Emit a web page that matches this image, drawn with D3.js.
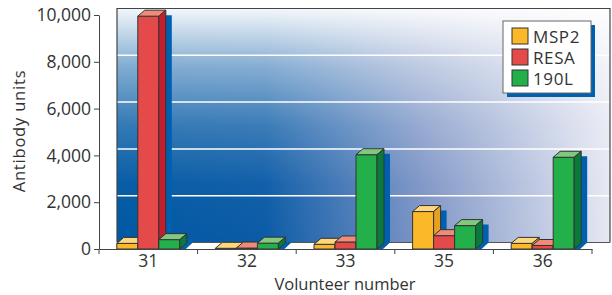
<!DOCTYPE html>
<html>
<head>
<meta charset="utf-8">
<script src="https://cdn.jsdelivr.net/npm/d3@7"></script>
<style>
  body { margin: 0; background: #fff; }
  text { font-family: "Open Sans", sans-serif; fill: #333; }
</style>
</head>
<body>
<svg id="chart"></svg>
<script>
const categories = ["31", "32", "33", "35", "36"];
const series = ["MSP2", "RESA", "190L"];
const msp2 = [240, 30, 200, 1600, 240];
const resa = [9950, 40, 300, 570, 150];
const l190 = [400, 250, 4030, 1000, 3920];
const yTicks = [0, 2000, 4000, 6000, 8000, 10000];

const values = [msp2, resa, l190];
const frontCol = ["#fbb829", "#e54a4a", "#23b04b"];
const topCol = ["#fed77c", "#f28a78", "#80c97f"];
const sideCol = ["#e8a11e", "#c21f2e", "#0a7a3c"];

const width = 612, height = 295;
const svg = d3.select("#chart").attr("width", width).attr("height", height);

const x = d3.scaleBand().domain(categories).range([99, 592]);
const y = d3.scaleLinear().domain([0, 10000]).range([249, 15]);
const inner = d3.scaleBand().domain(series).range([0, 63]);

// depth of the back wall and of the bars
const wdx = 18, wdy = -6.5;
const bdx = 7, bdy = -6;

const defs = svg.append("defs");
const base = defs.append("linearGradient").attr("id", "wallBase")
    .attr("gradientUnits", "userSpaceOnUse")
    .attr("x1", 117).attr("x2", 610).attr("y1", 0).attr("y2", 0);
[[0, "#0058a3"], [0.3, "#0b5ba6"], [0.62, "#7f96c6"], [1, "#e6e8f3"]]
    .forEach(s => base.append("stop").attr("offset", s[0]).attr("stop-color", s[1]));
const fade = defs.append("linearGradient").attr("id", "wallFade")
    .attr("x1", 0).attr("x2", 0).attr("y1", 0).attr("y2", 1);
[[0, 0.95], [0.25, 0.5], [0.5, 0.2], [0.75, 0.03], [1, 0]]
    .forEach(s => fade.append("stop").attr("offset", s[0])
        .attr("stop-color", "#fff").attr("stop-opacity", s[1]));

const wallX = x.range()[0] + wdx, wallW = x.range()[1] - x.range()[0];
const wallY = y(10000) + wdy, wallH = y(0) - y(10000);

svg.append("rect").attr("x", wallX).attr("y", wallY).attr("width", wallW).attr("height", wallH)
    .attr("fill", "url(#wallBase)");
svg.append("rect").attr("x", wallX).attr("y", wallY).attr("width", wallW).attr("height", wallH)
    .attr("fill", "url(#wallFade)");

// gridlines on the wall
svg.append("g").selectAll("line")
    .data(yTicks.filter(d => d > 0 && d < 10000))
    .enter().append("line")
    .attr("x1", wallX).attr("x2", wallX + wallW)
    .attr("y1", d => y(d) + wdy).attr("y2", d => y(d) + wdy)
    .attr("stroke", "#fff").attr("stroke-width", 1.5);

// wall border
svg.append("path")
    .attr("d", `M${wallX},${wallY + wallH}V${wallY}H${wallX + wallW}V${wallY + wallH}`)
    .attr("fill", "none").attr("stroke", "#444").attr("stroke-width", 1.2);

// floor
svg.append("path")
    .attr("d", `M${x.range()[0]},${y(0)}L${wallX},${wallY + wallH}H${wallX + wallW}L${x.range()[1]},${y(0)}Z`)
    .attr("fill", "#fff");
svg.append("line")
    .attr("x1", wallX).attr("x2", wallX + wallW)
    .attr("y1", wallY + wallH).attr("y2", wallY + wallH)
    .attr("stroke", "#555").attr("stroke-width", 1);

// bars
const bars = [];
categories.forEach((c, ci) => {
    series.forEach((s, si) => {
        bars.push({ c, si, v: values[si][ci], x0: x(c) + x.bandwidth() / 2 - 31.5 + inner(s) });
    });
});
const bw = inner.bandwidth();

svg.append("g").selectAll("path")
    .data(bars).enter().append("path")
    .attr("d", d => {
        const r = d.x0 + bw, t = y(d.v) - 1, b = y(0);
        return `M${r},${t}H${r + 13}V${b + wdy}L${r + 6},${b}H${r}Z`;
    })
    .attr("fill", "#0060b0");

const barG = svg.append("g").selectAll("g")
    .data(bars).enter().append("g")
    .attr("stroke", "#333").attr("stroke-width", 1).attr("stroke-linejoin", "round");

barG.append("rect")
    .attr("x", d => d.x0).attr("y", d => y(d.v))
    .attr("width", bw).attr("height", d => y(0) - y(d.v))
    .attr("fill", d => frontCol[d.si]);
barG.append("path")
    .attr("d", d => {
        const l = d.x0, r = d.x0 + bw, t = y(d.v);
        return `M${l},${t}L${l + bdx},${t + bdy}H${r + bdx}L${r},${t}Z`;
    })
    .attr("fill", d => topCol[d.si]);
barG.append("path")
    .attr("d", d => {
        const r = d.x0 + bw, t = y(d.v), b = y(0);
        return `M${r},${t}L${r + bdx},${t + bdy}V${b + bdy}L${r},${b}Z`;
    })
    .attr("fill", d => sideCol[d.si]);

// y axis
const yAxis = svg.append("g").attr("transform", `translate(${x.range()[0]},0)`)
    .call(d3.axisLeft(y).tickValues(yTicks).tickFormat(d3.format(",")).tickSize(5).tickSizeOuter(0).tickPadding(3));
yAxis.select(".domain").attr("stroke", "#444");
yAxis.selectAll(".tick line").attr("stroke", "#444");
yAxis.selectAll("text").attr("font-size", 17.5).attr("fill", "#333")
    .style("font-family", "'Open Sans', sans-serif");

// x axis
const xAxis = svg.append("g").attr("transform", `translate(0,${y(0)})`)
    .call(d3.axisBottom(x).tickSize(0).tickPadding(6));
xAxis.select(".domain").attr("stroke", "#444");
xAxis.selectAll("text").attr("font-size", 17.5).attr("fill", "#333")
    .style("font-family", "'Open Sans', sans-serif");
xAxis.selectAll(".edge").data(categories.map(c => x(c)).concat([x.range()[1]]))
    .enter().append("line").attr("class", "edge")
    .attr("x1", d => d).attr("x2", d => d).attr("y1", 0).attr("y2", 5)
    .attr("stroke", "#444");

// titles
svg.append("text").attr("x", 345).attr("y", 290).attr("text-anchor", "middle")
    .attr("font-size", 16.5).text("Volunteer number");
svg.append("text").attr("transform", "translate(25,131) rotate(-90)")
    .attr("text-anchor", "middle").attr("font-size", 16.5).attr("letter-spacing", 0.8)
    .text("Antibody units");

// legend
const lg = svg.append("g").attr("transform", "translate(503,21)");
lg.append("rect").attr("x", 4).attr("y", 4).attr("width", 88).attr("height", 72).attr("fill", "#0060b0");
lg.append("rect").attr("width", 88).attr("height", 72).attr("fill", "#fff").attr("stroke", "#666");
const li = lg.selectAll(".item").data(series).enter().append("g")
    .attr("transform", (d, i) => `translate(9,${7 + i * 21})`);
li.append("rect").attr("width", 16).attr("height", 16)
    .attr("fill", (d, i) => frontCol[i]).attr("stroke", "#333");
li.append("text").attr("x", 21).attr("y", 14.5).attr("font-size", 17).attr("letter-spacing", 0.6)
    .text(d => d);
</script>
</body>
</html>
